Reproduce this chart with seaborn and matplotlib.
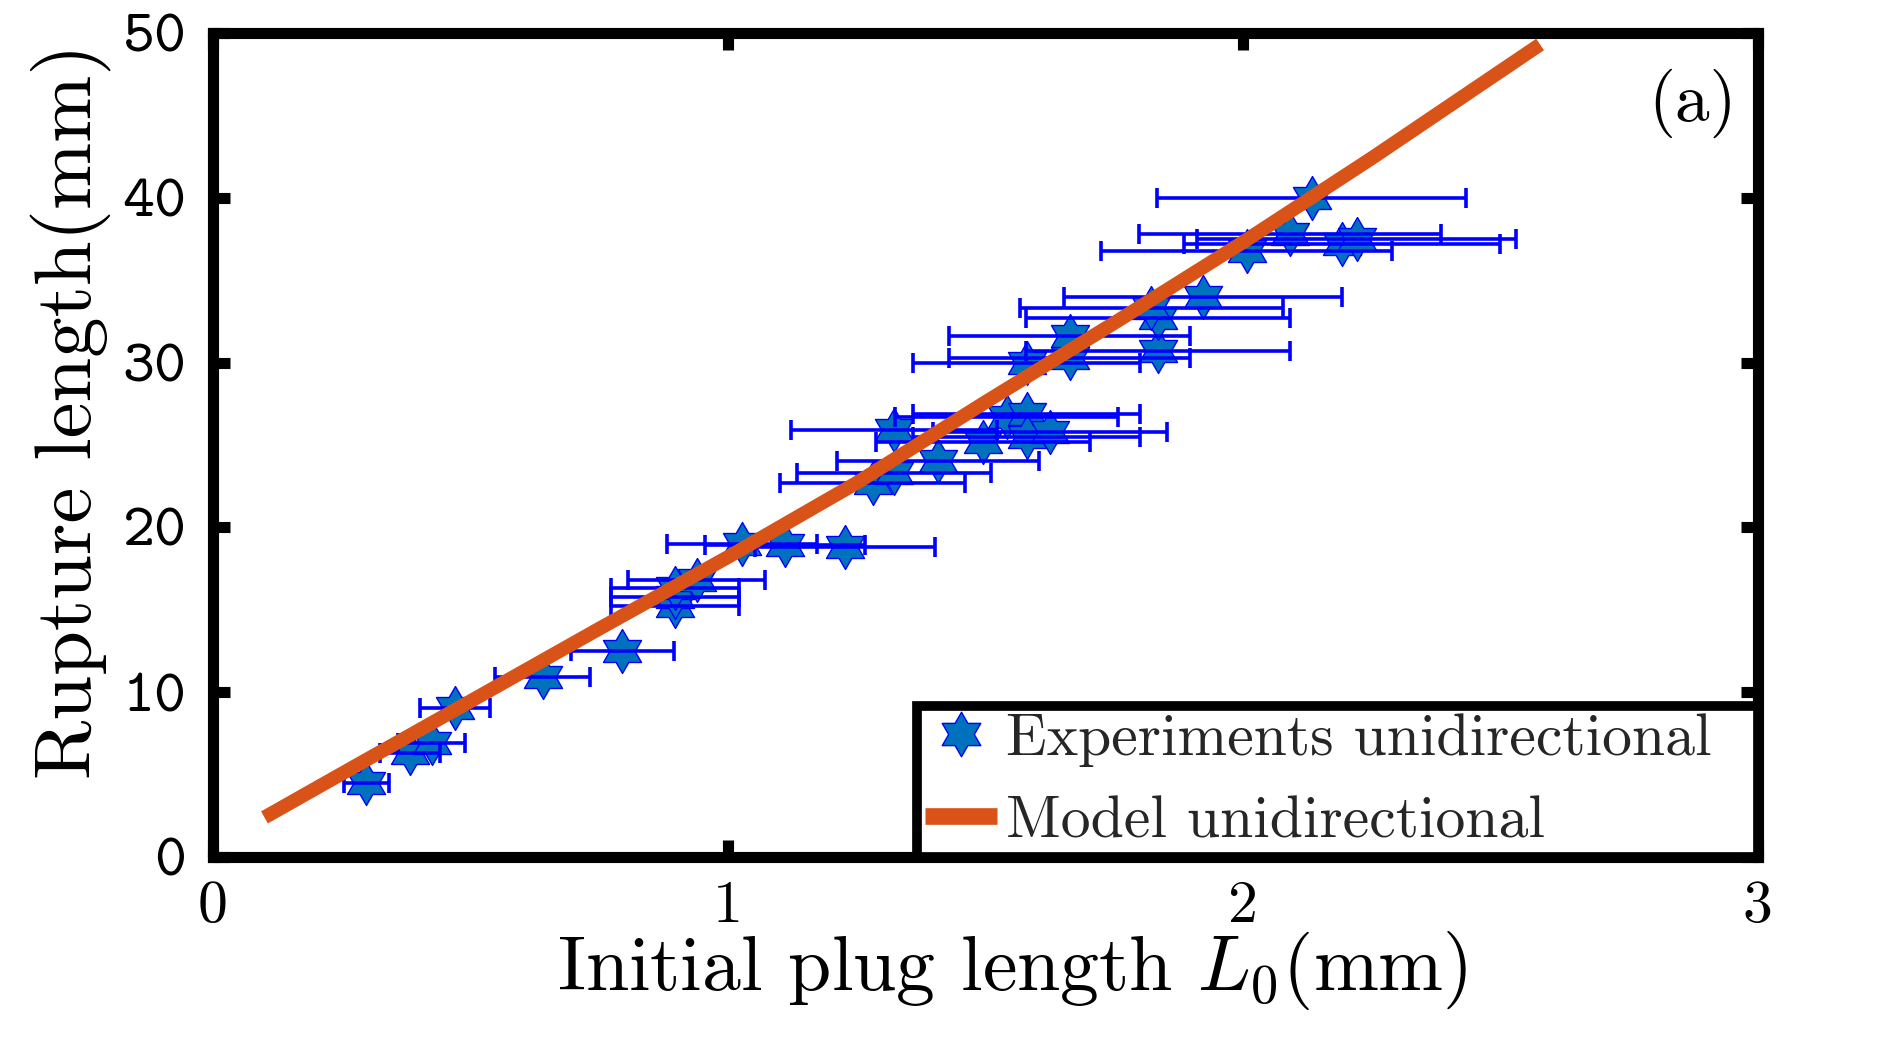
import numpy as np
import pandas as pd
import matplotlib
matplotlib.use('Agg')
import matplotlib.pyplot as plt
from matplotlib.path import Path
from matplotlib.lines import Line2D
from matplotlib.markers import MarkerStyle
import seaborn as sns

# ---- data ----
exp_L0 = [0.298, 0.383, 0.425, 0.470, 0.640, 0.795, 0.897, 0.897, 0.897, 0.939,
          1.027, 1.111, 1.227, 1.281, 1.323, 1.323, 1.408, 1.495, 1.541, 1.580,
          1.580, 1.625, 1.580, 1.664, 1.664, 1.835, 1.835, 1.822, 1.922, 2.007,
          2.091, 2.134, 2.192, 2.221]
exp_rupture = [4.5, 6.3, 6.9, 9.05, 10.9, 12.5, 15.2, 15.8, 16.3, 16.8,
               19.0, 18.9, 18.8, 22.7, 23.3, 25.9, 24.0, 25.2, 26.7, 26.9,
               25.5, 25.8, 30.0, 30.3, 31.6, 30.7, 32.7, 33.3, 34.0, 36.8,
               37.8, 40.0, 37.2, 37.5]
exp_L0_err = [0.043, 0.058, 0.065, 0.067, 0.092, 0.10, 0.125, 0.125, 0.125, 0.133,
              0.146, 0.155, 0.175, 0.179, 0.188, 0.20, 0.196, 0.208, 0.217, 0.22,
              0.22, 0.227, 0.22, 0.234, 0.234, 0.257, 0.257, 0.255, 0.27, 0.282,
              0.293, 0.30, 0.307, 0.31]

model_L0 = [0.1, 0.25, 0.5, 0.75, 1.0, 1.25, 1.5, 1.75, 2.0, 2.25, 2.577]
model_rupture = [2.4, 5.05, 9.45, 13.85, 18.2, 22.7, 27.6, 32.4, 37.3, 42.4, 49.3]

x_ticks = [0, 1, 2, 3]
y_ticks = [0, 10, 20, 30, 40, 50]
legend_labels = ['Experiments unidirectional', 'Model unidirectional']
panel_label = '(a)'

# ---- style ----
sns.set_theme(style='white')
plt.rcParams['mathtext.fontset'] = 'cm'
plt.rcParams['font.family'] = ['cmr10', 'DejaVu Serif']
plt.rcParams['axes.unicode_minus'] = False
plt.rcParams['axes.formatter.use_mathtext'] = False

MARKER_FACE = '#0072BD'
BAR_BLUE = '#0000FF'
LINE_ORANGE = '#D95319'

fig = plt.figure(figsize=(18.98, 10.4), dpi=100)
ax = fig.add_axes([0.1122, 0.176, 0.814, 0.7923])

hexagram = MarkerStyle(Path.unit_regular_star(6, 1 / np.sqrt(3)))

df_exp = pd.DataFrame({'L0': exp_L0, 'rupture': exp_rupture, 'err': exp_L0_err})
df_model = pd.DataFrame({'L0': model_L0, 'rupture': model_rupture})

sns.scatterplot(data=df_exp, x='L0', y='rupture', marker=hexagram, s=1000,
                color=MARKER_FACE, edgecolor=BAR_BLUE, linewidth=1.0,
                ax=ax, zorder=2, legend=False)
ax.errorbar(df_exp['L0'], df_exp['rupture'], xerr=df_exp['err'], fmt='none',
            ecolor=BAR_BLUE, elinewidth=2.6, capsize=7, capthick=2.6, zorder=3)
sns.lineplot(data=df_model, x='L0', y='rupture', color=LINE_ORANGE,
             linewidth=10, ax=ax, zorder=4, legend=False,
             solid_capstyle='butt')

ax.set_xlim(0, 3)
ax.set_ylim(0, 50)
ax.set_xticks(x_ticks)
ax.set_yticks(y_ticks)
ax.set_xticklabels([str(t) for t in x_ticks])
ax.set_yticklabels([str(t) for t in y_ticks])

for s in ax.spines.values():
    s.set_linewidth(8)
    s.set_color('black')
    s.set_visible(True)

ax.tick_params(which='major', direction='in', length=12, width=8,
               top=True, right=True, bottom=True, left=True, color='black')
ax.tick_params(axis='x', labelsize=43, pad=17, labelcolor='black')
ax.tick_params(axis='y', labelsize=44, pad=19, labelcolor='black')
for lbl in ax.get_yticklabels():
    lbl.set_fontfamily('cmtt10')

ax.set_xlabel('Initial plug length $L_0$(mm)', fontsize=56, color='black')
ax.set_ylabel('Rupture length(mm)', fontsize=58, color='black')
ax.xaxis.set_label_coords(0.5175, -0.088)
ax.yaxis.set_label_coords(-0.066, 0.5405)

ax.text(0.986, 0.915, panel_label, ha='right', va='center',
        transform=ax.transAxes, fontsize=50, color='black')

handles = [
    Line2D([], [], linestyle='none', marker=hexagram, markersize=32,
           markerfacecolor=MARKER_FACE, markeredgecolor=BAR_BLUE, markeredgewidth=1),
    Line2D([], [], color=LINE_ORANGE, linewidth=12, solid_capstyle='butt'),
]
leg = ax.legend(handles, legend_labels, loc='lower left',
                bbox_to_anchor=(0.456, 0.0, 0.544, 0.19), mode='expand',
                borderaxespad=0, fontsize=43, frameon=True, fancybox=False,
                edgecolor='black', framealpha=1, handlelength=1.2,
                handletextpad=0.15, borderpad=0.13, labelspacing=0.47)
leg.get_frame().set_linewidth(7)
leg.set_zorder(10)

fig.savefig('out.png', dpi=100, facecolor='white')
